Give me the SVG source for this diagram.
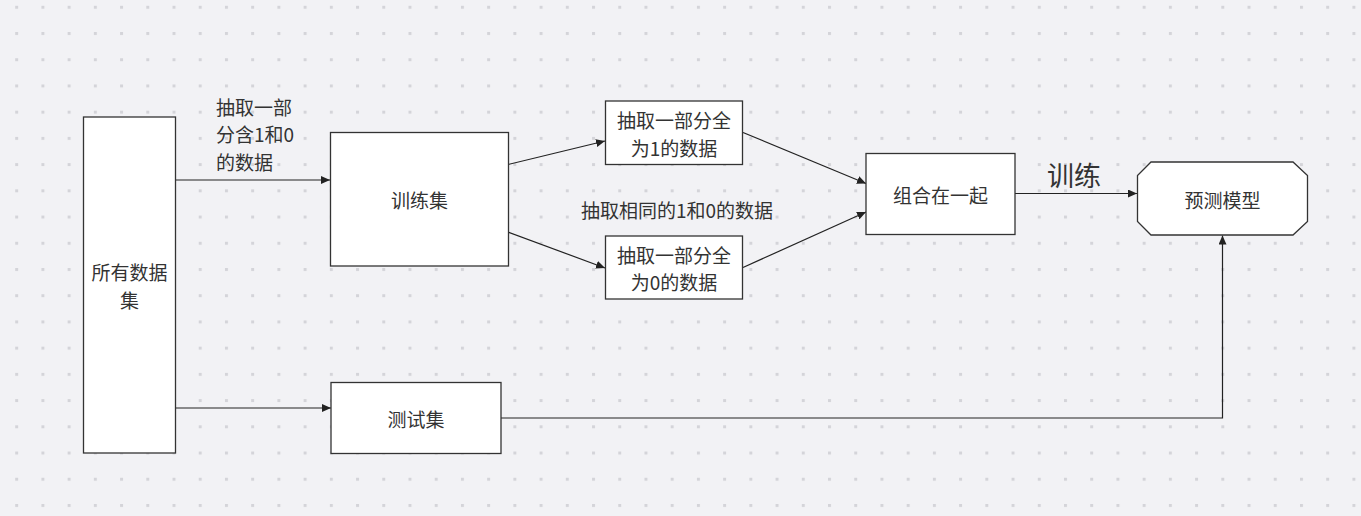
<svg xmlns="http://www.w3.org/2000/svg" width="1361" height="516" viewBox="0 0 1361 516">
<defs>
<pattern id="dots" x="15.2" y="5.8" width="26.22" height="26.22" patternUnits="userSpaceOnUse">
<rect x="0" y="0" width="3" height="3" fill="#d4d4d9"/>
</pattern>
<marker id="arr" viewBox="0 0 9 8" refX="9" refY="4" markerWidth="9" markerHeight="8" markerUnits="userSpaceOnUse" orient="auto">
<path d="M0,0 L9,4 L0,8 z" fill="#222"/>
</marker>
<style>
.box{fill:#ffffff;stroke:#333333;stroke-width:1.3}
.t{font-family:"Noto Sans CJK SC","Noto Sans",sans-serif;font-size:19px;fill:#333333;dominant-baseline:central}
.c{text-anchor:middle}
.ln{fill:none;stroke:#222;stroke-width:1.2;marker-end:url(#arr)}
</style>
</defs>
<rect width="1361" height="516" fill="#f2f2f5"/>
<rect width="1361" height="516" fill="url(#dots)"/>

<g id="connectors">
<line class="ln" x1="176" y1="180" x2="330" y2="180"/>
<line class="ln" x1="176" y1="408" x2="331" y2="408"/>
<line class="ln" x1="508" y1="164.5" x2="605" y2="141"/>
<line class="ln" x1="508" y1="232" x2="605" y2="268"/>
<line class="ln" x1="743" y1="132.5" x2="866" y2="183.5"/>
<line class="ln" x1="743" y1="267.5" x2="866" y2="212"/>
<line class="ln" x1="1015" y1="193.5" x2="1137" y2="193.5"/>
<polyline class="ln" points="501,418 1222.5,418 1222.5,235.5"/>
<text class="t" x="216" y="106">抽取一部</text>
<text class="t" x="216" y="133.5">分含1和0</text>
<text class="t" x="216" y="161">的数据</text>
<text class="t c" x="677" y="209">抽取相同的1和0的数据</text>
<text class="t" x="1047" y="174.5" style="font-size:27px">训练</text>
</g>

<g id="all-data">
<rect class="box" x="83.5" y="117" width="92" height="336"/>
<text class="t c" x="129.5" y="271.5">所有数据</text>
<text class="t c" x="129.5" y="299.5">集</text>
</g>

<g id="train-set">
<rect class="box" x="330.5" y="132.5" width="178" height="133.5"/>
<text class="t c" x="419.5" y="199">训练集</text>
</g>

<g id="test-set">
<rect class="box" x="331" y="382.5" width="170" height="71"/>
<text class="t c" x="416" y="418">测试集</text>
</g>

<g id="subset-1">
<rect class="box" x="605.5" y="101" width="137" height="63.5"/>
<text class="t c" x="674" y="119.5">抽取一部分全</text>
<text class="t c" x="674" y="147.5">为1的数据</text>
</g>

<g id="subset-0">
<rect class="box" x="605.5" y="236" width="137" height="63"/>
<text class="t c" x="674" y="254">抽取一部分全</text>
<text class="t c" x="674" y="281.5">为0的数据</text>
</g>

<g id="combine">
<rect class="box" x="866" y="153.5" width="149" height="81"/>
<text class="t c" x="940.5" y="194">组合在一起</text>
</g>

<g id="model">
<polygon class="box" points="1151,162 1293,162 1307.5,175.5 1307.5,221.5 1293,235 1151,235 1137.5,221.5 1137.5,175.5"/>
<text class="t c" x="1222.5" y="199">预测模型</text>
</g>
</svg>
